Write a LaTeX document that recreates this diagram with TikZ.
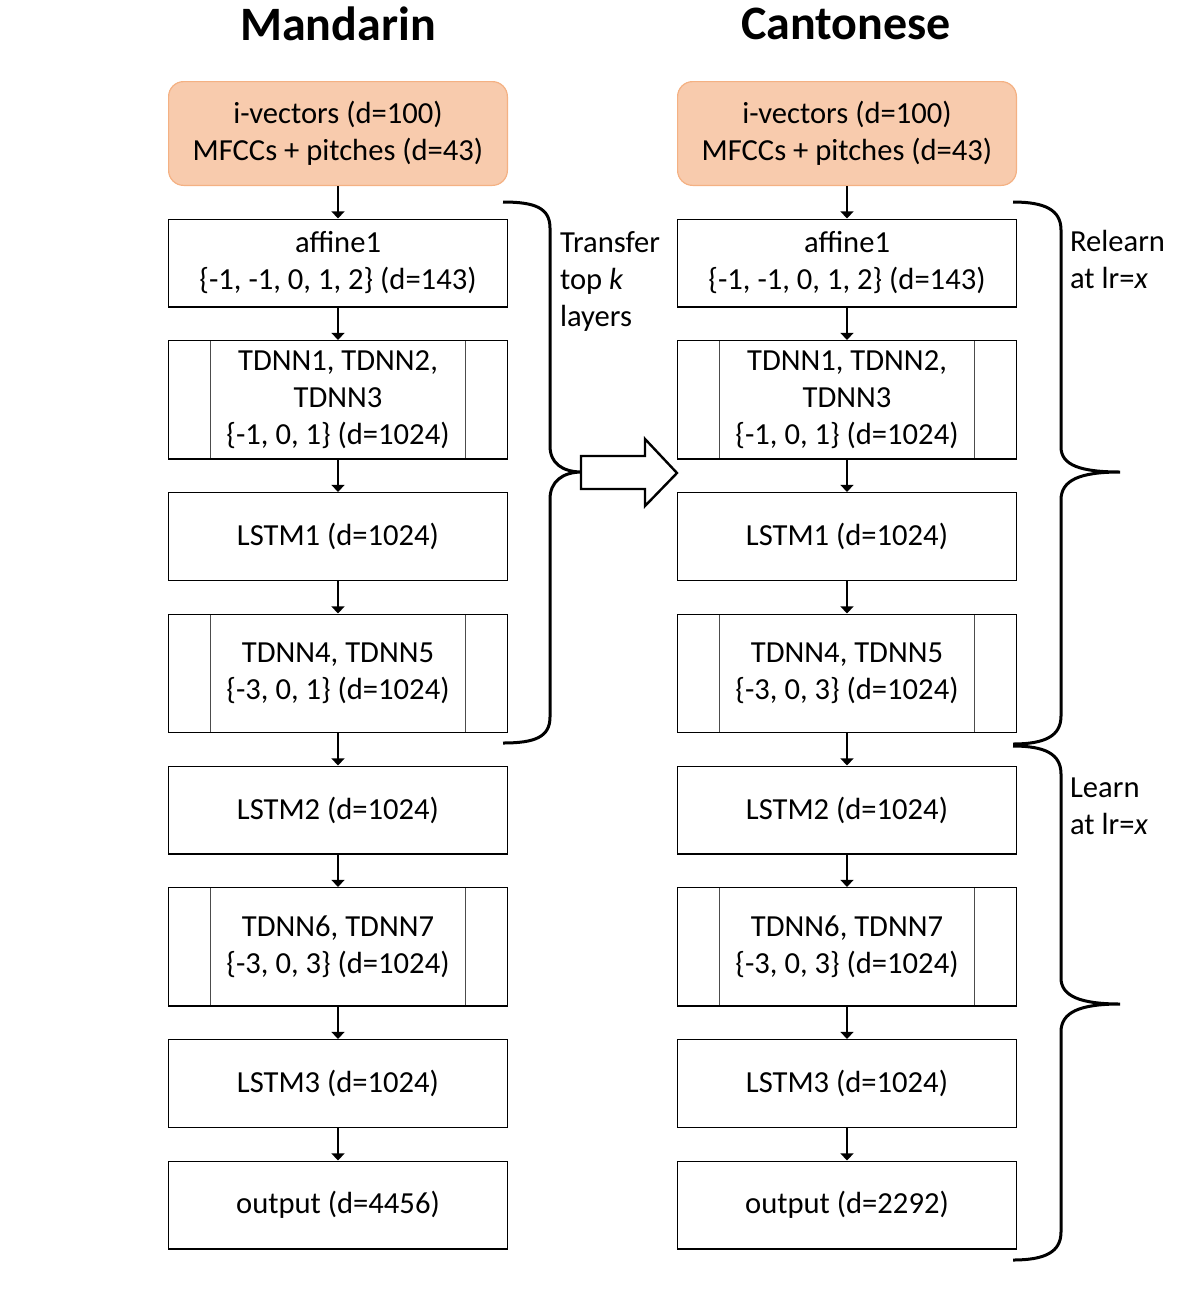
\documentclass[tikz,border=0pt]{standalone}
\usepackage{fontspec}
\setmainfont{Carlito}
\usetikzlibrary{positioning}
\usetikzlibrary{arrows.meta}

\definecolor{inputfill}{HTML}{F8CBAD}
\definecolor{inputdraw}{HTML}{F4B183}

\begin{document}
\begin{tikzpicture}[>={Triangle[width=6.5pt,length=3.6pt]},x=0.5pt,y=-0.5pt,node distance=16.25pt,
		every node/.style={font=\fontsize{15.3}{18.5}\selectfont},
		layer/.style={draw,line width=0.6pt,minimum width=169.4pt,minimum height=43.9pt,align=center,inner sep=0pt},
		tdnn/.style={layer,minimum height=59.15pt,
			path picture={\draw[line width=0.5pt,black!70]
				([xshift=21pt]path picture bounding box.north west) -- ([xshift=21pt]path picture bounding box.south west)
				([xshift=-21pt]path picture bounding box.north east) -- ([xshift=-21pt]path picture bounding box.south east);}},
		inputbox/.style={draw=inputdraw,fill=inputfill,line width=0.6pt,rounded corners=7.5pt,minimum width=169.4pt,minimum height=51.9pt,align=center,inner sep=0pt},
		title/.style={font=\fontsize{24}{28}\selectfont\bfseries},
		conn/.style={->,line width=1.1pt},
		curly/.style={line width=1.5pt}]
				\useasboundingbox (0,0) rectangle (1200,1296);

				% titles
				\node[title]	(mtitle) at (338,24)	{Mandarin};
				\node[title]	(ctitle) at (846,24)	{Cantonese};

				% Mandarin network
				\node[inputbox]	(m0) at (338,133.5)	{i-vectors (d=100)\\MFCCs + pitches (d=43)};
				\node[below=of m0, layer]	(m1) {affine1\\\{-1, -1, 0, 1, 2\} (d=143)};
				\node[below=of m1, tdnn]	(m2) {TDNN1, TDNN2,\\TDNN3\\\{-1, 0, 1\} (d=1024)};
				\node[below=of m2, layer]	(m3) {LSTM1 (d=1024)};
				\node[below=of m3, tdnn]	(m4) {TDNN4, TDNN5\\\{-3, 0, 1\} (d=1024)};
				\node[below=of m4, layer]	(m5) {LSTM2 (d=1024)};
				\node[below=of m5, tdnn]	(m6) {TDNN6, TDNN7\\\{-3, 0, 3\} (d=1024)};
				\node[below=of m6, layer]	(m7) {LSTM3 (d=1024)};
				\node[below=of m7, layer]	(m8) {output (d=4456)};

				% Cantonese network
				\node[inputbox]	(c0) at (847,133.5)	{i-vectors (d=100)\\MFCCs + pitches (d=43)};
				\node[below=of c0, layer]	(c1) {affine1\\\{-1, -1, 0, 1, 2\} (d=143)};
				\node[below=of c1, tdnn]	(c2) {TDNN1, TDNN2,\\TDNN3\\\{-1, 0, 1\} (d=1024)};
				\node[below=of c2, layer]	(c3) {LSTM1 (d=1024)};
				\node[below=of c3, tdnn]	(c4) {TDNN4, TDNN5\\\{-3, 0, 3\} (d=1024)};
				\node[below=of c4, layer]	(c5) {LSTM2 (d=1024)};
				\node[below=of c5, tdnn]	(c6) {TDNN6, TDNN7\\\{-3, 0, 3\} (d=1024)};
				\node[below=of c6, layer]	(c7) {LSTM3 (d=1024)};
				\node[below=of c7, layer]	(c8) {output (d=2292)};

				\path[conn]
				(m0) edge (m1)
				(m1) edge (m2)
				(m2) edge (m3)
				(m3) edge (m4)
				(m4) edge (m5)
				(m5) edge (m6)
				(m6) edge (m7)
				(m7) edge (m8)

				(c0) edge (c1)
				(c1) edge (c2)
				(c2) edge (c3)
				(c3) edge (c4)
				(c4) edge (c5)
				(c5) edge (c6)
				(c6) edge (c7)
				(c7) edge (c8);

				% braces
				\draw[curly] (503,202) .. controls (535,202) and (550,208) .. (550,228) -- (550,446)
					.. controls (550,463) and (562,472) .. (582,472)
					.. controls (562,472) and (550,482) .. (550,499) -- (550,717)
					.. controls (550,737) and (535,743) .. (503,743);
				\draw[curly] (1013,202) .. controls (1045,202) and (1061,210) .. (1061,230) -- (1061,447)
					.. controls (1061,465) and (1080,472) .. (1120,472)
					.. controls (1080,472) and (1061,480) .. (1061,500) -- (1061,716)
					.. controls (1061,736) and (1045,744) .. (1013,744);
				\draw[curly] (1013,746) .. controls (1045,746) and (1061,754) .. (1061,774) -- (1061,978)
					.. controls (1061,996) and (1080,1004) .. (1120,1004)
					.. controls (1080,1004) and (1061,1012) .. (1061,1032) -- (1061,1232)
					.. controls (1061,1252) and (1045,1260) .. (1013,1260);

				% transfer arrow
				\draw[line width=1.2pt,fill=white] (581,456) -- (645,456) -- (645,439) -- (677,473)
					-- (645,506) -- (645,489) -- (581,489) -- cycle;

				% labels
				\node[anchor=west, align=left]	(transfer) at (553,281) {Transfer\\top \textit{k}\\layers};
				\node[anchor=west, align=left]	(relearn) at (1063,259.5) {Relearn\\at lr=\textit{x}};
				\node[anchor=west, align=left]	(learn) at (1063,806.5) {Learn\\at lr=\textit{x}};
\end{tikzpicture}
\end{document}
